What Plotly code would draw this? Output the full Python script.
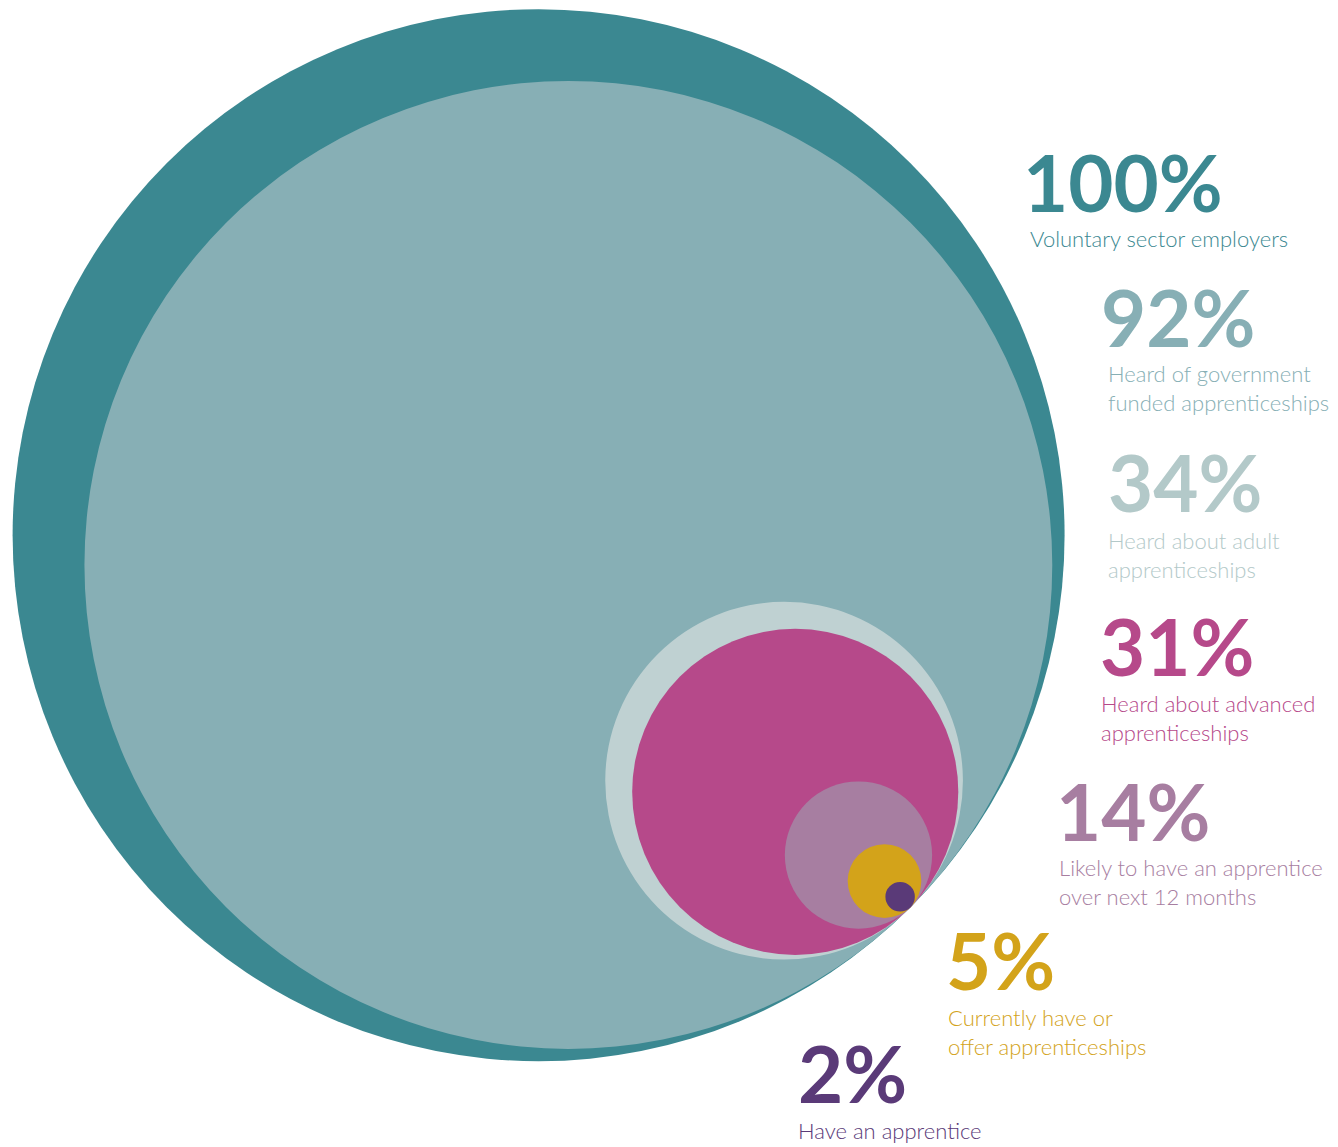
import math
import plotly.graph_objects as go

# ---------------- data ----------------
values = [100, 92, 34, 31, 14, 5, 2]
value_labels = ["100%", "92%", "34%", "31%", "14%", "5%", "2%"]
descriptions = [
    "Voluntary sector employers",
    "Heard of government<br>funded apprenticeships",
    "Heard about adult<br>apprenticeships",
    "Heard about advanced<br>apprenticeships",
    "Likely to have an apprentice<br>over next 12 months",
    "Currently have or<br>offer apprenticeships",
    "Have an apprentice",
]

# ---------------- styles ----------------
circle_colors = ["#3B8891", "#87AFB5", "#BFD1D2", "#B6498A", "#A77EA1", "#D3A31A", "#5A3A78"]
text_colors = ["#3B8891", "#87AFB5", "#B3C9C9", "#B6498A", "#A77EA1", "#D3A31A", "#5A3A78"]

W, H = 1338, 1147
OFF = 8                   # default page (body) margin of the html
R_FULL = 526.0            # pixel radius of 100%
BIG_CENTER = (538.6, 535.2)
ANGLE = math.radians(45)  # direction of common tangent point
SMALL_BOOST = 1.4         # enlarge tiny circles for visibility

ux, uy = math.cos(ANGLE), math.sin(ANGLE)
tx = BIG_CENTER[0] + R_FULL * ux
ty = BIG_CENTER[1] + R_FULL * uy

shapes = []
for v, col in zip(values, circle_colors):
    r = R_FULL * v / 100.0 * (SMALL_BOOST if v < 10 else 1.0)
    cx, cy = tx - r * ux, ty - r * uy
    shapes.append(dict(type="circle", xref="x", yref="y",
                       x0=cx - r, x1=cx + r, y0=cy - r, y1=cy + r,
                       fillcolor=col, line=dict(width=0), layer="below"))

# label placement (pixels): number cap-centre, description block centre
num_pos = [(1021, 182), (1099, 317), (1106, 482), (1098, 646), (1054, 811), (944, 960), (796, 1073)]
desc_pos = [(1028, 238), (1106, 388), (1106, 555), (1099, 718), (1057, 882), (946, 1032), (796, 1130)]

NUM_SIZE = 78
DESC_SIZE = 22

annotations = []
for lab, desc, col, (nx, ny), (dx, dy) in zip(value_labels, descriptions, text_colors, num_pos, desc_pos):
    annotations.append(dict(x=nx, y=ny, xref="x", yref="y", text=lab, showarrow=False,
                            xanchor="left", yanchor="middle", align="left",
                            height=66, valign="middle",
                            font=dict(family="Lato", size=NUM_SIZE, color=col, weight=700)))
    annotations.append(dict(x=dx, y=dy, xref="x", yref="y", text=desc, showarrow=False,
                            xanchor="left", yanchor="middle", align="left",
                            font=dict(family="Lato", size=DESC_SIZE, color=col, weight=300)))

fig = go.Figure()
fig.add_trace(go.Scatter(x=[OFF, W], y=[OFF, H], mode="markers", marker=dict(opacity=0),
                         hoverinfo="skip", showlegend=False))
fig.update_layout(
    width=W - OFF, height=H - OFF,
    margin=dict(l=0, r=0, t=0, b=0),
    paper_bgcolor="white", plot_bgcolor="white",
    xaxis=dict(range=[OFF, W], visible=False, fixedrange=True),
    yaxis=dict(range=[H, OFF], visible=False, fixedrange=True),
    shapes=shapes,
    annotations=annotations,
    showlegend=False,
)
fig.write_html("out.html", config=dict(displayModeBar=False))
